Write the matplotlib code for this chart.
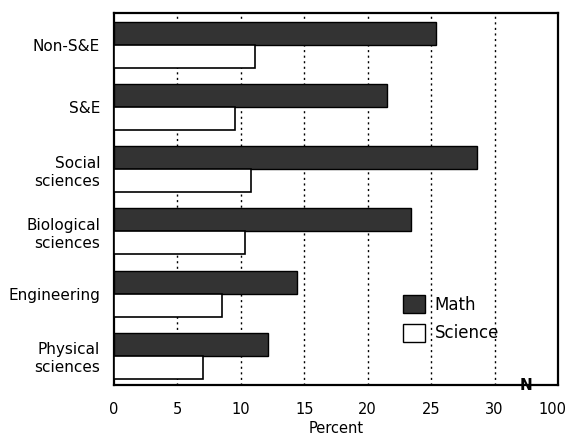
import numpy as np
import matplotlib.pyplot as plt
import matplotlib.transforms as mtransforms
from matplotlib.patches import Patch

# fields, top to bottom as in the chart
fields = ["Non-S&E", "S&E", "Social\nsciences", "Biological\nsciences",
          "Engineering", "Physical\nsciences"]
math_pct = [25.4, 21.5, 28.6, 23.4, 14.4, 12.1]
science_pct = [11.1, 9.5, 10.8, 10.3, 8.5, 7.0]

xtick_pos = [0, 5, 10, 15, 20, 25, 30, 35]
xtick_labels = ["0", "5", "10", "15", "20", "25", "30", "100"]

plt.rcParams['font.family'] = ['DejaVu Sans']

fig = plt.figure(figsize=(5.69, 4.38), dpi=100)
ax = fig.add_axes([0.2004, 0.121, 0.7803, 0.849])

n = len(fields)
y = np.arange(n)[::-1].astype(float)
h = 0.37

ax.barh(y + h / 2, math_pct, height=h, color='#333333', edgecolor='black',
        linewidth=1.0, zorder=3)
ax.barh(y - h / 2, science_pct, height=h, color='white', edgecolor='black',
        linewidth=1.2, zorder=3)

for gx in [5, 10, 15, 20, 25, 30]:
    ax.axvline(gx, color='black', linestyle=(0, (1.5, 2.5)), linewidth=1.0, zorder=1)

ax.set_xlim(0, 35)
ax.set_ylim(-0.47, n - 1 + 0.51)
ax.set_xticks(xtick_pos)
ax.set_xticklabels(xtick_labels, fontsize=10.5)
ax.set_yticks(y)
ax.set_yticklabels(fields, fontsize=11, linespacing=1.25)
ax.tick_params(axis='both', length=0)
ax.tick_params(axis='x', pad=12)
ax.tick_params(axis='y', pad=10)
ax.set_xlabel("Percent", fontsize=10.5, labelpad=3)

# nudge the last label so it stays inside the picture
last = ax.get_xticklabels()[-1]
last.set_transform(last.get_transform() +
                   mtransforms.ScaledTranslation(-4 / 72, 0, fig.dpi_scale_trans))

for sp in ax.spines.values():
    sp.set_linewidth(1.6)

# axis break mark
ax.text(32.5, 0.0, "N", transform=ax.get_xaxis_transform(), ha='center',
        va='center', fontsize=11, fontweight='bold', zorder=5)

handles = [Patch(facecolor='#333333', edgecolor='black', label='Math'),
           Patch(facecolor='white', edgecolor='black', label='Science')]
ax.legend(handles=handles, loc='upper left', bbox_to_anchor=(0.651, 0.242),
          frameon=False, fontsize=12, borderpad=0, borderaxespad=0,
          handlelength=1.3, handleheight=1.3, labelspacing=0.6,
          handletextpad=0.6)

plt.savefig("out.png", dpi=100)
